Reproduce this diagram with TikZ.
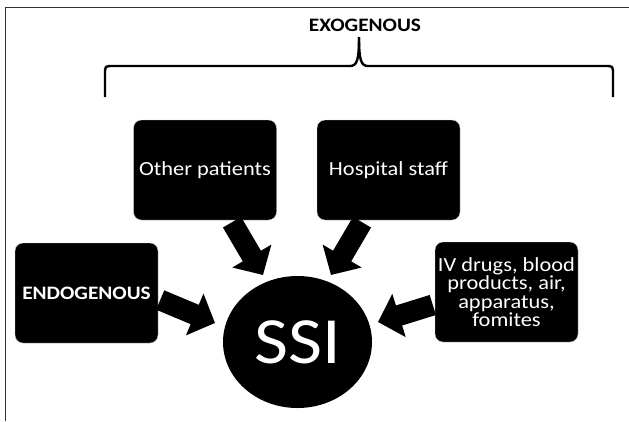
\documentclass[tikz,border=0pt]{standalone}
\usepackage{fontspec}
\setmainfont{Carlito}[FakeStretch=1.12]
\usetikzlibrary{shapes.geometric,arrows.meta,positioning,calc}

\begin{document}
\begin{tikzpicture}[x=1pt, y=-1pt,
  box/.style={rectangle, rounded corners=8pt, fill=black, draw=gray!40, minimum width=143pt, minimum height=100pt, text=white, align=center, inner sep=1pt, font=\fontsize{20}{18.5}\selectfont},
  arrow/.style={line width=21pt, -{Triangle[length=22pt,width=44pt]}},
  brace/.style={line width=2.4pt, line join=round}]
  \useasboundingbox (0,0) rectangle (629,421);
  \draw[black!80, line width=0.8pt] (5,421) -- (5,7) -- (629,7);
  \node[font=\fontsize{19}{19}\selectfont\bfseries] (exo) at (365,25) {EXOGENOUS};
  \coordinate (tip) at (359,37);
  \draw[brace] (105,97) -- (105,74) .. controls (105,66) .. (113,66) -- (350,66) .. controls (357,66) and (359,60) .. (tip);
  \draw[brace] (tip) .. controls (359,60) and (361,66) .. (368,66) -- (605,66) .. controls (613,66) .. (613,74) -- (613,97);
  \node[box] (op) at (205,170) {Other patients};
  \node[box] (hs) at (388.5,170) {Hospital staff};
  \node[box, font=\fontsize{19}{18.5}\selectfont\bfseries] (endo) at (86.5,293) {ENDOGENOUS};
  \node[box] (iv) at (506.5,292) {IV drugs, blood\\products, air,\\apparatus,\\fomites};
  \node[ellipse, fill=black, minimum width=149pt, minimum height=132pt, text=white, font=\fontsize{66}{66}\selectfont] (ssi) at (297.5,342) {SSI};
  \draw[arrow] ($(op.south)+(27,2)$) -- ($(ssi)+(-34.5,-67)$);
  \draw[arrow] ($(hs.south)+(-26.5,2)$) -- ($(ssi)+(33.5,-67)$);
  \draw[arrow] ($(endo.east)+(2,7)$) -- ($(ssi)+(-82.5,-19)$);
  \draw[arrow] ($(iv.west)+(-2,13)$) -- ($(ssi)+(80.5,-20)$);
\end{tikzpicture}
\end{document}
